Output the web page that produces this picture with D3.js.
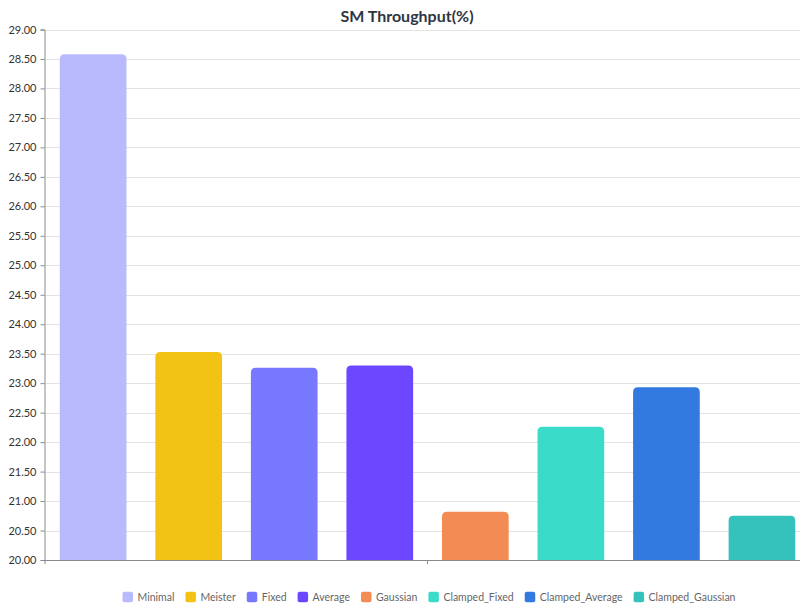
<!DOCTYPE html>
<html>
<head>
<meta charset="utf-8">
<script src="https://cdn.jsdelivr.net/npm/d3@7"></script>
<style>
  html, body { margin: 0; padding: 0; background: #fff; }
  svg { display: block; font-family: Lato, "Open Sans", sans-serif; }
</style>
</head>
<body>
<svg id="chart" width="800" height="607"></svg>
<script>
// SM throughput per filtering method
const categories = ["SM Throughput(%)"];
const seriesNames = ["Minimal", "Meister", "Fixed", "Average", "Gaussian", "Clamped_Fixed", "Clamped_Average", "Clamped_Gaussian"];
const seriesValues = [28.58, 23.53, 23.26, 23.30, 20.82, 22.26, 22.93, 20.75];
const seriesColors = ["#b9b9fd", "#f2c314", "#7878ff", "#6c47ff", "#f28c54", "#3adbc9", "#3279e0", "#35c1bc"];
const yTicks = d3.range(20, 29.001, 0.5);

const svg = d3.select("#chart");
const margin = { left: 44.5, right: 810.6, top: 29.5, bottom: 560 };

const x0 = d3.scaleBand().domain(categories).range([margin.left, margin.right]);
const x1 = d3.scaleBand().domain(seriesNames)
  .range([x0(categories[0]), x0(categories[0]) + x0.bandwidth()])
  .paddingInner(0.302).paddingOuter(0.16);
const y = d3.scaleLinear().domain([20, 29]).range([margin.bottom, margin.top]);

// title
svg.append("text")
  .attr("x", 407).attr("y", 22)
  .attr("text-anchor", "middle")
  .attr("font-size", 16).attr("font-weight", 700)
  .attr("fill", "#2f3542")
  .text(categories[0]);

// horizontal grid
svg.append("g")
  .selectAll("line")
  .data(yTicks)
  .join("line")
  .attr("x1", margin.left).attr("x2", 800)
  .attr("y1", d => Math.round(y(d)) + 0.5).attr("y2", d => Math.round(y(d)) + 0.5)
  .attr("stroke", "#e3e3e3").attr("stroke-width", 1);

// bars with rounded top corners
function barPath(x, w, top, bottom, r) {
  r = Math.min(r, (bottom - top), w / 2);
  return `M${x},${bottom}V${top + r}Q${x},${top} ${x + r},${top}H${x + w - r}Q${x + w},${top} ${x + w},${top + r}V${bottom}Z`;
}
svg.append("g")
  .selectAll("path")
  .data(seriesNames.map((n, i) => ({ name: n, value: seriesValues[i], color: seriesColors[i] })))
  .join("path")
  .attr("d", d => barPath(x1(d.name), x1.bandwidth(), y(d.value), y(20), 5))
  .attr("fill", d => d.color);

// y axis
const yAxis = d3.axisLeft(y).tickValues(yTicks).tickFormat(d3.format(".2f")).tickSize(4).tickPadding(4);
const gy = svg.append("g").attr("transform", `translate(${margin.left},0)`).call(yAxis);
gy.select(".domain").attr("stroke", "#8a8a8a");
gy.selectAll(".tick line").attr("stroke", "#8a8a8a");
gy.selectAll(".tick text").attr("font-size", 11).attr("fill", "#333").attr("font-family", "Lato, sans-serif");

// x axis
const xAxis = d3.axisBottom(x0).tickSize(4).tickFormat("");
const gx = svg.append("g").attr("transform", `translate(0,${margin.bottom})`).call(xAxis);
gx.select(".domain").attr("stroke", "#8a8a8a");
gx.selectAll(".tick line").attr("stroke", "#8a8a8a");

// legend
const legend = svg.append("g").attr("transform", "translate(0,597)");
const items = legend.selectAll("g").data(seriesNames).join("g");
items.append("rect")
  .attr("width", 10.5).attr("height", 10.5).attr("y", -5.25).attr("rx", 2)
  .attr("fill", (d, i) => seriesColors[i]);
items.append("text")
  .attr("x", 15).attr("dy", "0.35em")
  .attr("font-size", 10.5).attr("fill", "#666")
  .text(d => d);
let cursor = 0;
const offsets = [];
items.each(function () {
  offsets.push(cursor);
  const w = d3.select(this).select("text").node().getComputedTextLength();
  cursor += 15 + w + 11;
});
const totalW = cursor - 11;
const startX = 429 - totalW / 2;
items.attr("transform", (d, i) => `translate(${startX + offsets[i]},0)`);
</script>
</body>
</html>
